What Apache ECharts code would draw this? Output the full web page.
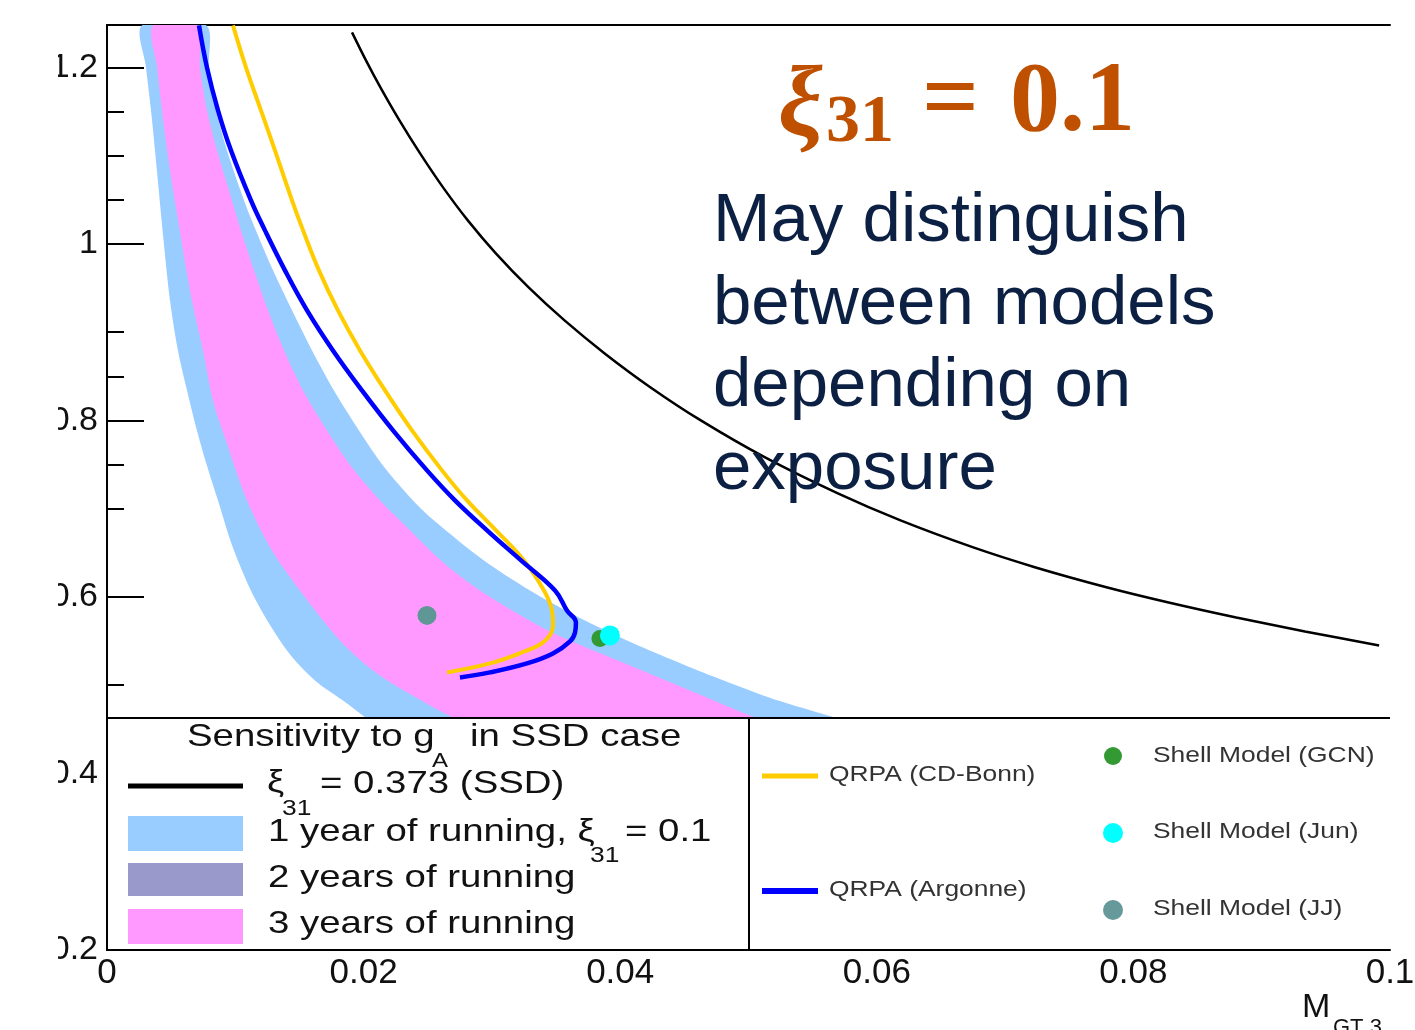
<!DOCTYPE html>
<html><head><meta charset="utf-8">
<script src="https://cdn.jsdelivr.net/npm/echarts@6/dist/echarts.min.js"></script>
<style>html,body{margin:0;padding:0;background:#fff;}#c{width:1415px;height:1030px;}</style>
</head><body><div id="c"></div>
<script>
// ---- data (x = M_GT3, y = g_A) ----
const xTicks = [0, 0.02, 0.04, 0.06, 0.08, 0.1];
const yMajorTicks = [0.2, 0.4, 0.6, 0.8, 1.0, 1.2];
const yMinorTicks = [0.5, 0.7, 0.75, 0.85, 0.9, 1.05, 1.1, 1.15];

const ssdCurve = [[0.019096,1.23966],[0.020184,1.20793],[0.021310,1.17734],[0.022794,1.13994],[0.024403,1.10255],[0.026192,1.06402],[0.028121,1.02663],[0.030307,0.98924],[0.032861,0.95069],[0.035660,0.91331],[0.038789,0.87592],[0.042370,0.83739],[0.046284,0.80000],[0.051292,0.75807],[0.056964,0.71728],[0.061849,0.68669],[0.067519,0.65609],[0.072381,0.63343],[0.077970,0.61076],[0.082746,0.59377],[0.088015,0.57677],[0.093370,0.56091],[0.099153,0.54504]];

const oneYearLeft = [[0.00273,1.2476],[0.00304,1.2000],[0.00343,1.1513],[0.00374,1.1060],[0.00444,0.9994],[0.00491,0.9360],[0.00553,0.8793],[0.00624,0.8340],[0.00701,0.7887],[0.00779,0.7490],[0.00865,0.7094],[0.00990,0.6527],[0.01161,0.5960],[0.01403,0.5394],[0.01621,0.5054],[0.01839,0.4827],[0.02026,0.4623],[0.02167,0.4487]];
const oneYearRight = [[0.00772,1.2476],[0.00795,1.2000],[0.00850,1.1513],[0.00935,1.1060],[0.01068,1.0493],[0.01161,1.0153],[0.01294,0.9700],[0.01442,0.9247],[0.01598,0.8793],[0.01769,0.8340],[0.01964,0.7887],[0.02151,0.7490],[0.02385,0.7094],[0.02549,0.6867],[0.02938,0.6414],[0.03297,0.6074],[0.03531,0.5881],[0.03726,0.5734],[0.04053,0.5507],[0.04287,0.5360],[0.04606,0.5167],[0.04949,0.4975],[0.05230,0.4827],[0.05619,0.4657],[0.05986,0.4487]];

const threeYearLeft = [[0.00359,1.2476],[0.00390,1.2000],[0.00468,1.1060],[0.00585,0.9994],[0.00662,0.9360],[0.00748,0.8793],[0.00826,0.8227],[0.00927,0.7773],[0.01091,0.7094],[0.01286,0.6527],[0.01504,0.6074],[0.01816,0.5507],[0.02104,0.5133],[0.02517,0.4771],[0.02712,0.4623],[0.02892,0.4487]];
const threeYearRight = [[0.00701,1.2476],[0.00725,1.2000],[0.00779,1.1513],[0.00857,1.1060],[0.00974,1.0493],[0.01044,1.0153],[0.01146,0.9700],[0.01255,0.9247],[0.01380,0.8793],[0.01528,0.8340],[0.01715,0.7887],[0.01910,0.7467],[0.02128,0.7094],[0.02284,0.6867],[0.02603,0.6414],[0.02907,0.6074],[0.03437,0.5621],[0.03983,0.5280],[0.04544,0.4941],[0.05012,0.4657],[0.05323,0.4487]];

const qrpaArgonne = [[0.00717,1.2476],[0.00779,1.2000],[0.00865,1.1513],[0.00966,1.1060],[0.01122,1.0493],[0.01231,1.0153],[0.01387,0.9700],[0.01559,0.9247],[0.01761,0.8793],[0.01987,0.8340],[0.02229,0.7887],[0.02494,0.7434],[0.02712,0.7094],[0.02962,0.6754],[0.03227,0.6414],[0.03492,0.6074],[0.03585,0.5847],[0.03655,0.5711],[0.03648,0.5598],[0.03609,0.5496],[0.03476,0.5360],[0.03273,0.5247],[0.02985,0.5145],[0.02751,0.5088]];
const qrpaCDBonn = [[0.00982,1.2476],[0.01083,1.2000],[0.01200,1.1513],[0.01309,1.1060],[0.01442,1.0493],[0.01528,1.0153],[0.01652,0.9700],[0.01800,0.9247],[0.01972,0.8793],[0.02167,0.8340],[0.02377,0.7887],[0.02611,0.7434],[0.02806,0.7094],[0.03032,0.6754],[0.03250,0.6414],[0.03406,0.6074],[0.03468,0.5847],[0.03476,0.5677],[0.03445,0.5553],[0.03375,0.5462],[0.03235,0.5371],[0.02985,0.5247],[0.02650,0.5145]];

const shellGCN = [[0.03842,0.5530]];
const shellJun = [[0.03920,0.5564]];
const shellJJ = [[0.02494,0.5791]];

// ---- chart ----
const chart = echarts.init(document.getElementById('c'), null, {renderer: 'canvas'});
const SANS = '"Liberation Sans", Arial, sans-serif';
const SERIF = '"Liberation Serif", "Times New Roman", serif';

function band(name, left, right, color, z) {
  return {
    type: 'custom', name: name, z: z, clip: true, silent: true,
    data: [left[0]],
    renderItem: function (params, api) {
      if (params.dataIndex !== 0) return null;
      const pts = left.concat(right.slice().reverse()).map(p => api.coord(p));
      return {type: 'polygon', shape: {points: pts, smooth: 0.3}, style: {fill: color}};
    }
  };
}

function txt(x, y, text, size, opt) {
  opt = opt || {};
  return {
    type: 'text', z: 110, x: x, y: y, scaleX: opt.sx == null ? 1.2 : opt.sx,
    style: {
      text: text, font: (opt.weight || 'normal') + ' ' + size + 'px ' + (opt.family || SANS),
      fill: opt.color || '#111', align: 'left', verticalAlign: 'middle',
      textAlign: 'left', textVerticalAlign: 'middle'
    }
  };
}
function ln(x1, y1, x2, y2, w, c) {
  return {type: 'line', z: 105, shape: {x1: x1, y1: y1, x2: x2, y2: y2}, style: {stroke: c || '#000', lineWidth: w}};
}
function rect(x, y, w, h, c, z) {
  return {type: 'rect', z: z || 104, shape: {x: x, y: y, width: w, height: h}, style: {fill: c}};
}
function dot(cx, cy, r, c) {
  return {type: 'circle', z: 106, shape: {cx: cx, cy: cy, r: r}, style: {fill: c}};
}

const graphics = [
  // legend panel covering lower part of plot
  rect(108, 719, 1282, 230, '#fff', 100),
  ln(107, 718, 1390, 718, 2), ln(749, 718, 749, 950, 2),
  ln(107, 717, 107, 951, 2), ln(106, 950, 1390, 950, 2),
  // left legend
  txt(187, 737, 'Sensitivity to g', 32),
  txt(432, 761, 'A', 20),
  txt(470, 737, 'in SSD case', 32),
  ln(128, 786, 243, 786, 5),
  txt(267, 783, 'ξ', 32), txt(282, 809, '31', 22), txt(320, 784, '= 0.373 (SSD)', 32),
  rect(128, 816, 115, 35, '#99ccff', 104),
  txt(268, 832, '1 year of running, ξ', 32), txt(590, 856, '31', 22), txt(625, 832, '= 0.1', 32),
  rect(128, 863, 115, 33, '#9999cc', 104),
  txt(268, 878, '2 years of running', 32),
  rect(128, 909, 115, 35, '#ff99ff', 104),
  txt(268, 924, '3 years of running', 32),
  // right legend
  ln(762, 776, 818, 776, 5, '#ffcc00'),
  txt(829, 775, 'QRPA (CD-Bonn)', 22, {color: '#333'}),
  ln(762, 891, 818, 891, 6, '#0000ff'),
  txt(829, 890, 'QRPA (Argonne)', 22, {color: '#333'}),
  dot(1113, 756, 9, '#339933'), txt(1153, 756, 'Shell Model (GCN)', 22, {color: '#333'}),
  dot(1113, 833, 10, '#00ffff'), txt(1153, 832, 'Shell Model (Jun)', 22, {color: '#333'}),
  dot(1113, 910, 10, '#669999'), txt(1153, 909, 'Shell Model (JJ)', 22, {color: '#333'}),
  // x-axis title
  txt(1302, 1008, 'M', 34, {sx: 1}),
  txt(1333, 1028, 'GT 3', 22, {sx: 1}),
  // big annotation
  txt(778, 108, 'ξ', 100, {sx: 1, family: SERIF, weight: 'italic bold', color: '#bf5000'}),
  txt(826, 123, '31', 68, {sx: 1, family: SERIF, weight: 'bold', color: '#bf5000'}),
  txt(922, 104, '=', 100, {sx: 1, family: SERIF, weight: 'bold', color: '#bf5000'}),
  txt(1010, 104, '0.1', 100, {sx: 1, family: SERIF, weight: 'bold', color: '#bf5000'}),
  txt(713, 222, 'May distinguish', 69, {sx: 1, color: '#0c2044'}),
  txt(713, 305, 'between models', 69, {sx: 1, color: '#0c2044'}),
  txt(713, 387, 'depending on', 69, {sx: 1, color: '#0c2044'}),
  txt(713, 470, 'exposure', 69, {sx: 1, color: '#0c2044'}),
  // cropped left edge of the original figure
  rect(0, 0, 58, 1030, '#fff', 120)
];

const option = {
  animation: false,
  backgroundColor: '#fff',
  grid: {left: 107, right: 25, top: 25, bottom: 80, containLabel: false, outerBoundsMode: 'none'},
  xAxis: [{
    type: 'value', min: 0, max: 0.1, interval: 0.02, position: 'bottom',
    axisLine: {show: true, lineStyle: {color: '#000', width: 2}},
    axisTick: {show: false}, splitLine: {show: false},
    axisLabel: {color: '#111', fontFamily: SANS, fontSize: 35, margin: 6,
      customValues: xTicks, formatter: v => String(+v.toFixed(2))}
  }, {
    type: 'value', min: 0, max: 0.1, interval: 0.02, position: 'top',
    axisLine: {show: true, onZero: false, lineStyle: {color: '#000', width: 2}},
    axisTick: {show: false}, axisLabel: {show: false}, splitLine: {show: false}
  }],
  yAxis: [{
    type: 'value', min: 0.2, max: 1.248, interval: 0.2, position: 'left',
    axisLine: {show: true, onZero: false, lineStyle: {color: '#000', width: 2}},
    axisTick: {show: true, inside: true, length: 37, lineStyle: {color: '#000', width: 2}, customValues: yMajorTicks},
    splitLine: {show: false},
    axisLabel: {color: '#111', fontFamily: SANS, fontSize: 34, margin: 9, customValues: yMajorTicks,
      formatter: v => (Math.abs(v * 5 - Math.round(v * 5)) < 1e-6 ? String(+v.toFixed(1)) : '')}
  }, {
    type: 'value', min: 0.2, max: 1.248, interval: 0.05, position: 'left',
    axisLine: {show: false},
    axisTick: {show: true, inside: true, length: 17, lineStyle: {color: '#000', width: 2}, customValues: yMinorTicks},
    axisLabel: {show: false}, splitLine: {show: false}
  }],
  series: [
    band('1 year of running', oneYearLeft, oneYearRight, '#99ccff', 1),
    band('3 years of running', threeYearLeft, threeYearRight, '#ff99ff', 2),
    {type: 'line', name: 'SSD', data: ssdCurve, showSymbol: false, smooth: 0.3, z: 3, clip: true,
      lineStyle: {color: '#000', width: 2.5}},
    {type: 'line', name: 'QRPA (CD-Bonn)', data: qrpaCDBonn, showSymbol: false, smooth: 0.4, z: 4, clip: true,
      lineStyle: {color: '#ffcc00', width: 4}},
    {type: 'line', name: 'QRPA (Argonne)', data: qrpaArgonne, showSymbol: false, smooth: 0.4, z: 5, clip: true,
      lineStyle: {color: '#0000ff', width: 4.5}},
    {type: 'scatter', name: 'Shell Model (JJ)', data: shellJJ, symbol: 'circle', symbolSize: 19, z: 6,
      itemStyle: {color: '#5f9797', opacity: 1}},
    {type: 'scatter', name: 'Shell Model (GCN)', data: shellGCN, symbol: 'circle', symbolSize: 17, z: 6,
      itemStyle: {color: '#339933', opacity: 1}},
    {type: 'scatter', name: 'Shell Model (Jun)', data: shellJun, symbol: 'circle', symbolSize: 20, z: 7,
      itemStyle: {color: '#00ffff', opacity: 1}}
  ],
  graphic: graphics
};
chart.setOption(option);
</script>
</body></html>
